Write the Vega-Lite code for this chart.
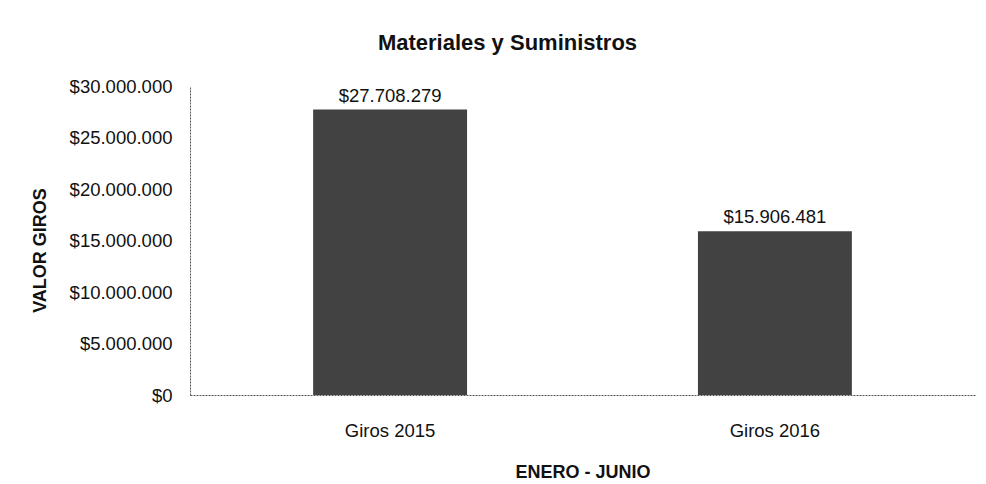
{
  "$schema": "https://vega.github.io/schema/vega-lite/v6.json",
  "autosize": "none",
  "width": 785,
  "height": 309,
  "padding": {"left": 190, "top": 86, "right": 11, "bottom": 89},
  "background": "white",
  "config": {
    "font": "Liberation Sans",
    "view": {"stroke": null}
  },
  "title": {
    "text": "Materiales y Suministros",
    "fontSize": 22,
    "fontWeight": "bold",
    "color": "#111",
    "anchor": "middle",
    "frame": "group",
    "dx": -75,
    "offset": 22
  },
  "data": {
    "values": [
      {"periodo": "Giros 2015", "valor": 27708279, "etiqueta": "$27.708.279"},
      {"periodo": "Giros 2016", "valor": 15906481, "etiqueta": "$15.906.481"}
    ]
  },
  "encoding": {
    "x": {
      "field": "periodo",
      "type": "nominal",
      "sort": null,
      "title": "ENERO - JUNIO",
      "scale": {"paddingInner": 0.6, "paddingOuter": 0.32},
      "axis": {
        "labelAngle": 0,
        "labelFontSize": 18.5,
        "labelColor": "#111",
        "labelPadding": 26,
        "ticks": false,
        "domainColor": "#555",
        "domainDash": [2, 1],
        "titleFontSize": 18,
        "titleFontWeight": "bold",
        "titleColor": "#111",
        "titlePadding": 24
      }
    },
    "y": {
      "field": "valor",
      "type": "quantitative",
      "title": "VALOR GIROS",
      "scale": {"domain": [0, 30000000], "nice": false},
      "axis": {
        "values": [0, 5000000, 10000000, 15000000, 20000000, 25000000, 30000000],
        "labelExpr": "'$' + replace(format(datum.value, ',d'), /,/g, '.')",
        "labelFontSize": 18.5,
        "labelColor": "#111",
        "labelPadding": 18,
        "ticks": false,
        "grid": false,
        "domainColor": "#555",
        "domainDash": [2, 1],
        "titleFontSize": 18,
        "titleFontWeight": "bold",
        "titleColor": "#111",
        "titlePadding": 20,
        "titleY": 164
      }
    }
  },
  "layer": [
    {"mark": {"type": "bar", "color": "#424242"}},
    {
      "mark": {"type": "text", "dy": -14, "baseline": "middle", "fontSize": 18.5, "color": "#111"},
      "encoding": {"text": {"field": "etiqueta"}}
    }
  ]
}
